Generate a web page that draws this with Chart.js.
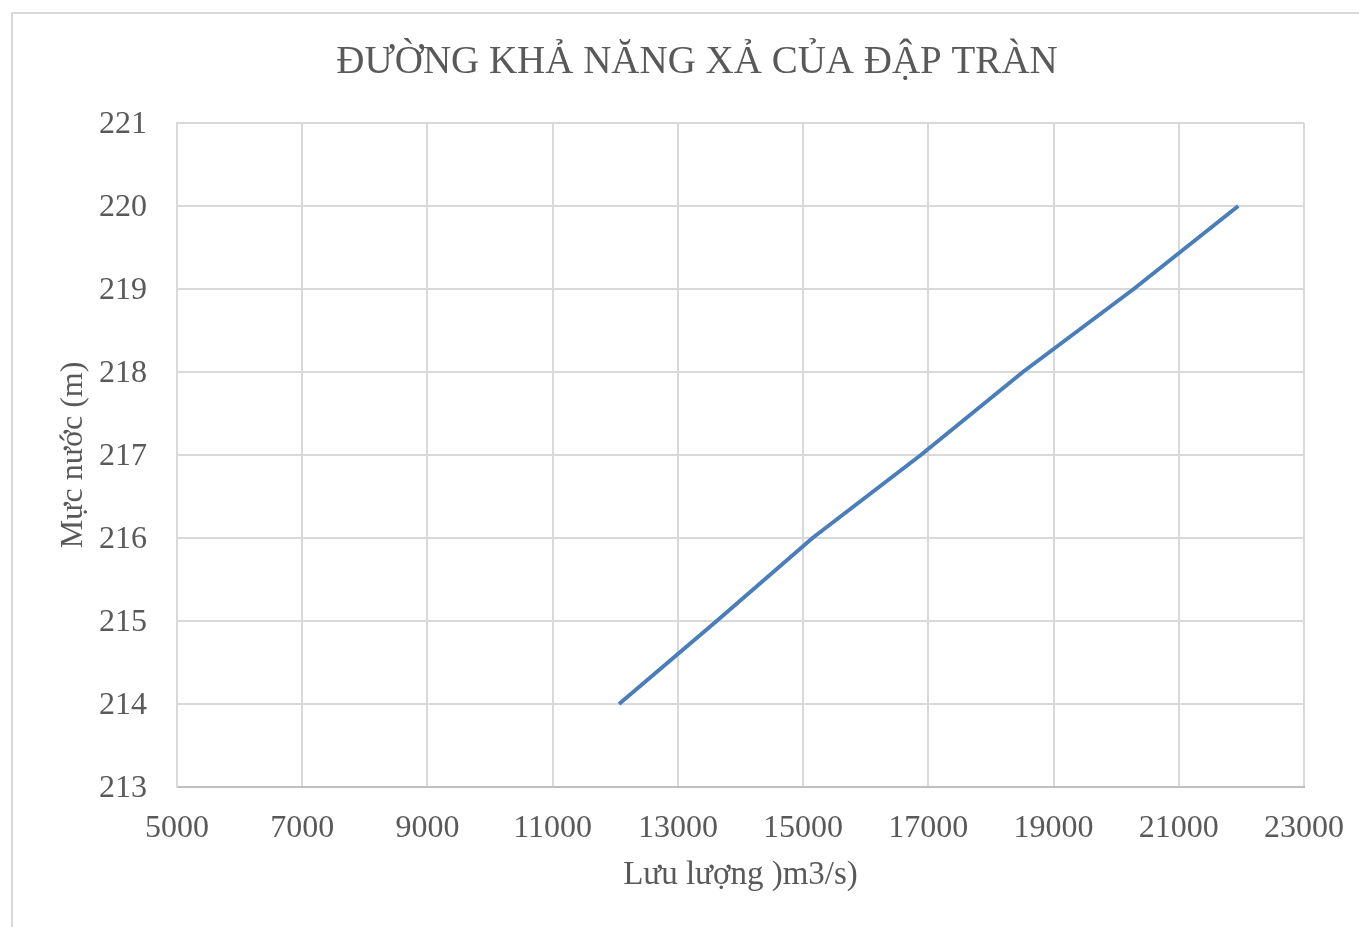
<!DOCTYPE html>
<html lang="vi">
<head>
<meta charset="utf-8">
<title>Đường khả năng xả của đập tràn</title>
<script src="https://cdn.jsdelivr.net/npm/chart.js@4.4.1/dist/chart.umd.min.js"></script>
<style>
  html, body { margin: 0; padding: 0; background: #ffffff; overflow: hidden; width: 1359px; height: 927px; }
  #frame {
    position: absolute; left: 11px; top: 12px;
    width: 1368px; height: 940px;
    border: 2px solid #d9d9d9; background: #ffffff;
  }
  #chart { display: block; }
</style>
</head>
<body>
<div id="frame"><canvas id="chart" width="1368" height="913"></canvas></div>
<script>
// Mực nước hồ (m) và lưu lượng xả tương ứng (m3/s)
const mucNuoc = [214, 215, 216, 217, 218, 219, 220];
const luuLuong = [12060, 13620, 15150, 16880, 18510, 20280, 21950];

// Giới hạn trục
const xMin = 5000, xMax = 23000, xStep = 2000;
const yMin = 213, yMax = 221, yStep = 1;

const textColor = '#595959';
const gridColor = '#d9d9d9';
const serif = '"Liberation Serif", "Times New Roman", "DejaVu Serif", serif';

const points = luuLuong.map((q, i) => ({ x: q, y: mucNuoc[i] }));

new Chart(document.getElementById('chart'), {
  type: 'line',
  data: {
    datasets: [{
      label: 'Khả năng xả',
      data: points,
      borderColor: '#4A7EBB',
      borderWidth: 4,
      pointRadius: 0,
      tension: 0,
      fill: false
    }]
  },
  options: {
    responsive: false,
    animation: false,
    layout: { padding: 0 },
    plugins: {
      legend: { display: false },
      tooltip: { enabled: false },
      title: {
        display: true,
        text: 'ĐƯỜNG KHẢ NĂNG XẢ CỦA ĐẬP TRÀN',
        color: textColor,
        font: { family: serif, size: 39, weight: 'normal', lineHeight: 1.2 },
        padding: { top: 25.6, bottom: 36.6 }
      }
    },
    scales: {
      x: {
        type: 'linear',
        position: 'bottom',
        min: xMin, max: xMax,
        afterFit: s => { s.height = 140; },
        ticks: {
          stepSize: xStep,
          color: textColor,
          padding: 22,
          maxRotation: 0,
          font: { family: serif, size: 32, lineHeight: 1.2 },
          callback: v => String(v)
        },
        grid: { color: gridColor, lineWidth: 2, drawTicks: false },
        border: { color: '#bfbfbf', width: 2 },
        title: {
          display: true,
          text: 'Lưu lượng )m3/s)',
          color: textColor,
          font: { family: serif, size: 33, lineHeight: 1.2 },
          padding: { top: 0, bottom: 32 }
        }
      },
      y: {
        type: 'linear',
        position: 'left',
        min: yMin, max: yMax,
        afterFit: s => { s.width = 164; },
        ticks: {
          stepSize: yStep,
          color: textColor,
          padding: 30,
          labelOffset: 2,
          font: { family: serif, size: 32, lineHeight: 1.2 }
        },
        grid: { color: gridColor, lineWidth: 2, drawTicks: false },
        border: { color: gridColor, width: 2 },
        title: {
          display: true,
          text: 'Mực nước (m)',
          color: textColor,
          font: { family: serif, size: 32, lineHeight: 1.2 },
          padding: { top: 41, bottom: 0 }
        }
      },
      yRight: {
        type: 'linear',
        position: 'right',
        afterFit: s => { s.width = 77; },
        ticks: { display: false },
        grid: { display: false, drawTicks: false },
        border: { display: false }
      }
    }
  }
});
</script>
</body>
</html>
